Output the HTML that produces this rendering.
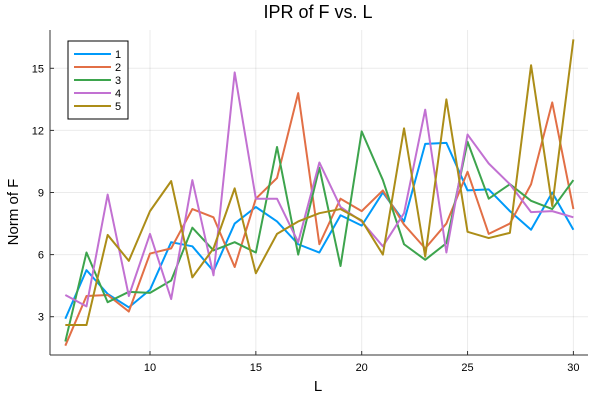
<!DOCTYPE html>
<html><head><meta charset="utf-8"><style>
html,body{margin:0;padding:0;background:#fff;}
svg{display:block;font-family:"Liberation Sans","DejaVu Sans",sans-serif;}
</style></head><body>
<svg id="chart" width="600" height="400">
<text x="318" y="18" text-anchor="middle" font-size="18" fill="#000">IPR of F vs. L</text>
<g id="grid"></g>
<g id="axes"></g>
<g id="series"></g>
<text x="318" y="391" text-anchor="middle" font-size="15">L</text>
<text transform="translate(18,212) rotate(-90)" text-anchor="middle" font-size="15">Norm of F</text>
<g id="legend"></g>
</svg>
<script>
const xs = [6,7,8,9,10,11,12,13,14,15,16,17,18,19,20,21,22,23,24,25,26,27,28,29,30];
const s1 = [2.9,5.25,4.1,3.45,4.3,6.6,6.4,5.2,7.5,8.3,7.6,6.5,6.1,7.9,7.4,9.0,7.6,11.35,11.4,9.1,9.15,8.1,7.2,9.0,7.2];
const s2 = [1.6,4.0,4.05,3.25,6.05,6.3,8.2,7.8,5.4,8.7,9.7,13.8,6.5,8.7,8.1,9.1,7.45,6.3,7.5,10.0,7.0,7.5,9.4,13.35,8.2];
const s3 = [1.8,6.1,3.7,4.2,4.15,4.75,7.3,6.2,6.6,6.1,11.2,6.0,10.2,5.45,11.95,9.6,6.5,5.75,6.55,11.45,8.7,9.4,8.6,8.2,9.6];
const s4 = [4.05,3.5,8.9,4.0,7.0,3.85,9.6,5.0,14.8,8.7,8.7,6.6,10.45,8.3,7.6,6.4,8.0,13.0,6.1,11.8,10.4,9.4,8.05,8.1,7.8];
const s5 = [2.6,2.6,6.95,5.7,8.1,9.55,4.9,6.3,9.2,5.1,7.0,7.6,8.0,8.2,7.65,6.0,12.1,5.9,13.5,7.1,6.8,7.05,15.15,8.35,16.4];
const seriesNames = ["1","2","3","4","5"];
const colors = ["#009af9","#e26f46","#3da44d","#c271d2","#ac8d18"];
const xTicks = [10,15,20,25,30];
const yTicks = [3,6,9,12,15];

const NS="http://www.w3.org/2000/svg";
const L=50,R=588,T=30,B=355;
const sx=v=>150+(v-10)*21.17;
const sy=v=>378.8-v*20.7;
function mk(tag,attrs,parent){const e=document.createElementNS(NS,tag);for(const k in attrs)e.setAttribute(k,attrs[k]);parent.appendChild(e);return e;}
const grid=document.getElementById('grid'),axes=document.getElementById('axes'),ser=document.getElementById('series'),leg=document.getElementById('legend');
xTicks.forEach(t=>{
  const g=mk('line',{x1:sx(t),x2:sx(t),y1:T,y2:B,stroke:'#000','stroke-opacity':0.08,'stroke-width':1},grid);
  
  
  const tk=mk('line',{x1:sx(t),x2:sx(t),y1:B,y2:B-4,stroke:'#333','stroke-width':1},axes);
  
  
  const lb=mk('text',{x:sx(t),y:B+16,'text-anchor':'middle','font-size':11,fill:'#000'},axes);
  lb.textContent=t;
  
  
});
yTicks.forEach(t=>{
  const g=mk('line',{x1:L,x2:R,y1:sy(t),y2:sy(t),stroke:'#000','stroke-opacity':0.08,'stroke-width':1},grid);
  
  
  const tk=mk('line',{x1:L,x2:L+4,y1:sy(t),y2:sy(t),stroke:'#333','stroke-width':1},axes);
  
  
  const lb=mk('text',{x:L-6,y:sy(t)+4,'text-anchor':'end','font-size':11,fill:'#000'},axes);
  lb.textContent=t;
  
  
});
const xa=mk('line',{x1:L,x2:R,y1:B,y2:B,stroke:'#333','stroke-width':1},axes);


const ya=mk('line',{x1:L,x2:L,y1:T,y2:B,stroke:'#333','stroke-width':1},axes);


[s1,s2,s3,s4,s5].forEach((s,i)=>{
  const p=mk('polyline',{points:s.map((v,j)=>sx(xs[j])+','+sy(v)).join(' '),fill:'none',stroke:colors[i],'stroke-width':2,'stroke-linejoin':'round'},ser);
  
  
});
const box=mk('rect',{x:68,y:41,width:60,height:78,fill:'#fff',stroke:'#000','stroke-width':1},leg);


seriesNames.forEach((n,i)=>{
  const y=54+i*13;
  const l=mk('line',{x1:74,x2:111,y1:y,y2:y,stroke:colors[i],'stroke-width':2},leg);
  
  
  const t=mk('text',{x:115,y:y+4,'font-size':11,fill:'#000'},leg);
  t.textContent=n;
  
  
});
</script>
</body></html>
